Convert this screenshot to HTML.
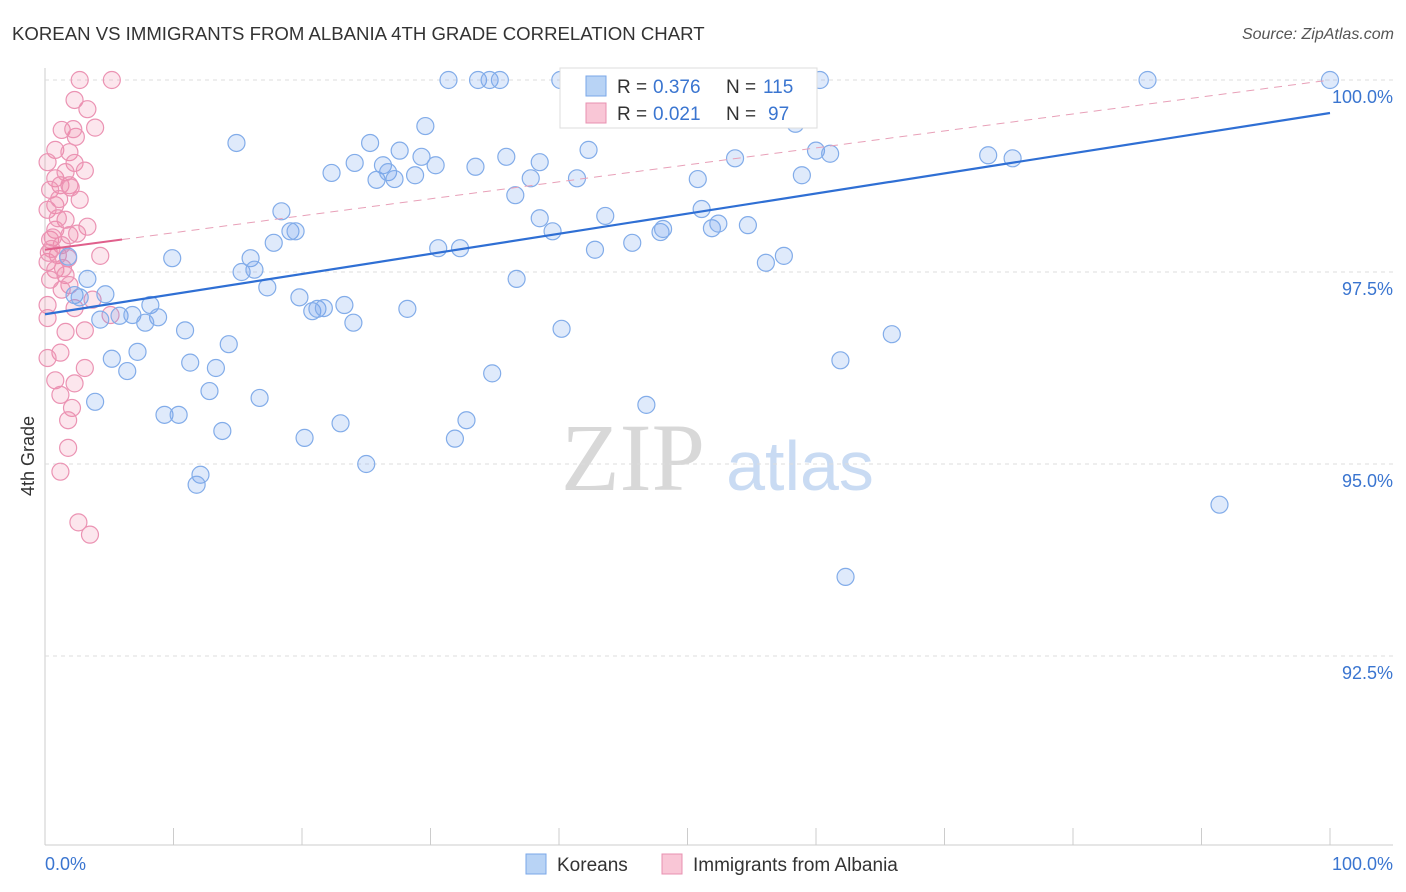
<!DOCTYPE html>
<html><head><meta charset="utf-8"><style>
body{margin:0;background:#fff;font-family:"Liberation Sans",sans-serif;}
#wrap{position:relative;width:1406px;height:892px;overflow:hidden;}
</style></head><body>
<div id="wrap">
<svg id="svg" width="1406" height="892" xmlns="http://www.w3.org/2000/svg">
<text x="12" y="40" font-size="18.6" fill="#333">KOREAN VS IMMIGRANTS FROM ALBANIA 4TH GRADE CORRELATION CHART</text>
<text x="1394" y="39" font-size="16" fill="#555" font-style="italic" text-anchor="end">Source: ZipAtlas.com</text>
<text x="633" y="490" font-size="96" fill="#d8d8d8" font-family="Liberation Serif,serif" text-anchor="middle">ZIP</text>
<text x="800" y="490" font-size="70" fill="#c9dbf3" text-anchor="middle">atlas</text>
<text transform="translate(34,456) rotate(-90)" font-size="18" fill="#333" text-anchor="middle">4th Grade</text>
<g id="grid"></g><g id="pts"></g><g id="lines"></g>
<g>
<rect x="560" y="68" width="257" height="60" fill="#fff" stroke="#ddd"/>
<rect x="586" y="76" width="20" height="20" fill="#b8d3f5" stroke="#7aa7e8"/>
<rect x="586" y="103" width="20" height="20" fill="#f9c6d6" stroke="#e890b0"/>
<text x="617" y="93" font-size="19" fill="#333">R =</text>
<text x="653" y="93" font-size="19" fill="#3a75d0">0.376</text>
<text x="726" y="93" font-size="19" fill="#333">N =</text>
<text x="763" y="93" font-size="19" fill="#3a75d0">115</text>
<text x="617" y="120" font-size="19" fill="#333">R =</text>
<text x="653" y="120" font-size="19" fill="#3a75d0">0.021</text>
<text x="726" y="120" font-size="19" fill="#333">N =</text>
<text x="768" y="120" font-size="19" fill="#3a75d0">97</text>
</g>
<g>
<rect x="526" y="854" width="20" height="20" fill="#b8d3f5" stroke="#7aa7e8"/>
<text x="557" y="871" font-size="19" fill="#333">Koreans</text>
<rect x="662" y="854" width="20" height="20" fill="#f9c6d6" stroke="#e890b0"/>
<text x="693" y="871" font-size="19" fill="#333">Immigrants from Albania</text>
</g>
<text x="45" y="870" font-size="18" fill="#3a75d0">0.0%</text>
<text x="1393" y="870" font-size="18" fill="#3a75d0" text-anchor="end">100.0%</text>
</svg></div>
<script>
const yTicks=[100,97.5,95,92.5];
const yTickLabels=["100.0%","97.5%","95.0%","92.5%"];
const xTicks=[0,10,20,30,40,50,60,70,80,90,100];
const blueX=[31.4,33.7,34.6,35.4,40.1,40.9,47.1,49.4,50.2,54.5,60.3,85.8,100,14.9,29.6,58.4,25.3,42.3,27.6,24.1,26.3,29.3,30.4,33.5,35.9,38.5,53.7,60.0,61.1,73.4,75.3,22.3,25.8,26.7,27.2,28.8,37.8,41.4,50.8,58.9,36.6,18.4,38.5,43.6,51.1,19.1,19.5,17.8,39.5,47.9,48.1,51.9,52.4,54.7,30.6,32.3,42.8,45.7,9.9,16.0,15.3,16.3,57.5,56.1,3.3,36.7,17.3,4.7,19.8,8.2,23.3,20.8,21.2,21.7,28.2,5.8,6.8,8.8,4.3,7.8,24.0,10.9,40.2,65.9,14.3,7.2,5.2,11.3,13.3,6.4,34.8,61.9,12.8,16.7,3.9,46.8,9.3,10.4,32.8,23.0,13.8,20.2,31.9,25.0,12.1,11.8,91.4,62.3,1.8,2.3,2.7];
const blueY=[100,100,100,100,100,100,100,100,100,100,100,100,100,99.18,99.40,99.43,99.18,99.09,99.08,98.92,98.89,99.00,98.89,98.87,99.00,98.93,98.98,99.08,99.04,99.02,98.98,98.79,98.70,98.80,98.71,98.76,98.72,98.72,98.71,98.76,98.50,98.29,98.20,98.23,98.32,98.03,98.03,97.88,98.03,98.02,98.06,98.07,98.13,98.11,97.81,97.81,97.79,97.88,97.68,97.68,97.50,97.53,97.71,97.62,97.41,97.41,97.30,97.21,97.17,97.07,97.07,96.99,97.02,97.03,97.02,96.93,96.94,96.91,96.88,96.84,96.84,96.74,96.76,96.69,96.56,96.46,96.37,96.32,96.25,96.21,96.18,96.35,95.95,95.86,95.81,95.77,95.64,95.64,95.57,95.53,95.43,95.34,95.33,95.00,94.86,94.73,94.47,93.53,97.70,97.20,97.17];
const pinkX=[2.7,5.2,2.3,3.3,1.3,3.9,2.4,2.2,0.8,1.9,0.2,2.3,0.8,1.6,3.1,1.9,1.2,0.4,2.7,0.8,0.2,1.6,3.3,0.8,1.9,0.4,1.3,1.0,1.8,4.3,0.2,0.8,1.6,0.4,1.9,1.3,3.7,0.2,2.3,5.1,0.2,1.6,3.1,1.2,0.2,3.1,0.8,2.3,1.2,2.1,1.8,1.8,1.2,2.6,3.5,1.0,0.6,1.4,0.5,2.0,1.1,0.3,2.5];
const pinkY=[100,100,99.74,99.62,99.35,99.38,99.26,99.36,99.09,99.06,98.93,98.92,98.72,98.80,98.82,98.63,98.63,98.57,98.44,98.37,98.31,98.18,98.09,98.05,97.98,97.92,97.85,97.72,97.68,97.71,97.63,97.53,97.46,97.40,97.33,97.27,97.14,97.07,97.03,96.94,96.90,96.72,96.74,96.45,96.38,96.25,96.09,96.05,95.90,95.73,95.57,95.21,94.90,94.24,94.08,98.2,97.95,97.55,97.8,98.6,98.45,97.75,98.0];
const blueTrend=[96.95,99.57];
const pinkTrend=[97.79,100];
const pinkSolidEnd=6;
const X=v=>45+v*12.85, Y=v=>80+(100-v)*76.8;
const NS="http://www.w3.org/2000/svg";
function mk(tag,attrs,parent){const e=document.createElementNS(NS,tag);for(const k in attrs)e.setAttribute(k,attrs[k]);document.getElementById(parent).appendChild(e);return e;}
const g='grid';
let e=mk('line',{x1:45,y1:68,x2:45,y2:845,stroke:'#ccc'},g);


e=mk('line',{x1:45,y1:845,x2:1393,y2:845,stroke:'#ccc'},g);


yTicks.forEach((t,i)=>{
 let l=mk('line',{x1:45,y1:Y(t),x2:1393,y2:Y(t),stroke:'#ddd','stroke-dasharray':'4,4'},g);
 
 
 let tx=mk('text',{x:1393,y:Y(t)+23,'font-size':18,fill:'#3a75d0','text-anchor':'end'},g);
 tx.textContent=yTickLabels[i];
 
 
});
xTicks.forEach(t=>{
 let l=mk('line',{x1:X(t),y1:828,x2:X(t),y2:845,stroke:'#ccc'},g);
 
 
});
pinkX.forEach((v,i)=>{
 let c=mk('circle',{cx:X(v),cy:Y(pinkY[i]),r:8.5,fill:'rgba(240,130,165,0.2)',stroke:'#eb93b3','stroke-width':1.2},'pts');
 
 
});
blueX.forEach((v,i)=>{
 let c=mk('circle',{cx:X(v),cy:Y(blueY[i]),r:8.5,fill:'rgba(110,160,235,0.22)',stroke:'#82ace9','stroke-width':1.2},'pts');
 
 
});
let bl=mk('line',{x1:X(0),y1:Y(blueTrend[0]),x2:X(100),y2:Y(blueTrend[1]),stroke:'#2f6fd4','stroke-width':2.2},'lines');


const pAt=x=>pinkTrend[0]+(pinkTrend[1]-pinkTrend[0])*x/100;
let pd=mk('line',{x1:X(pinkSolidEnd),y1:Y(pAt(pinkSolidEnd)),x2:X(100),y2:Y(pinkTrend[1]),stroke:'#e8a0b8','stroke-width':1,'stroke-dasharray':'8,6'},'lines');


let ps=mk('line',{x1:X(0),y1:Y(pinkTrend[0]),x2:X(pinkSolidEnd),y2:Y(pAt(pinkSolidEnd)),stroke:'#e0608c','stroke-width':2},'lines');


</script>
</body></html>
